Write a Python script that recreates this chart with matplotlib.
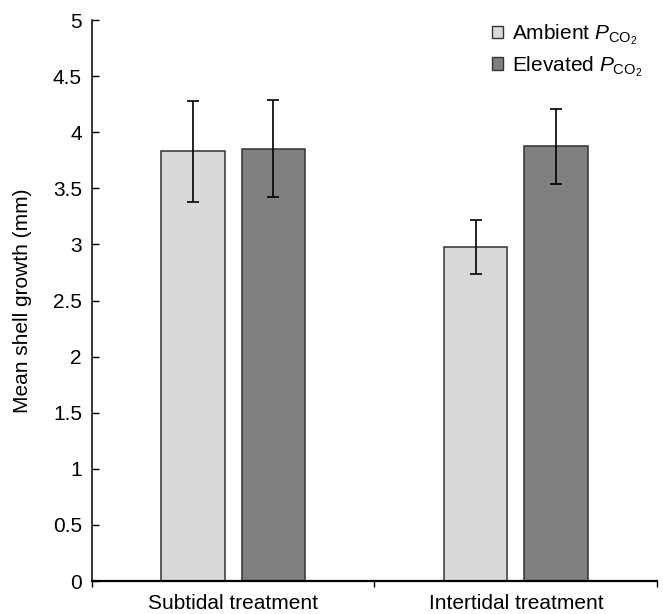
import numpy as np
import matplotlib
matplotlib.use('Agg')
import matplotlib.pyplot as plt
from matplotlib.patches import Patch

plt.rcParams['font.family'] = ['Liberation Sans', 'DejaVu Sans']
plt.rcParams['mathtext.fontset'] = 'custom'
plt.rcParams['mathtext.rm'] = 'Liberation Sans'
plt.rcParams['mathtext.it'] = 'Liberation Sans:italic'

# dati
trattamenti = ['Subtidal treatment', 'Intertidal treatment']
ambient = [3.83, 2.98]
ambient_err_su = [0.45, 0.24]
ambient_err_giu = [0.45, 0.24]
elevated = [3.85, 3.88]
elevated_err_su = [0.44, 0.33]
elevated_err_giu = [0.43, 0.34]
yticks = [0, 0.5, 1, 1.5, 2, 2.5, 3, 3.5, 4, 4.5, 5]

x = np.arange(len(trattamenti))
larghezza = 0.225
offset = 0.1425

fig = plt.figure(figsize=(6.63, 6.14), dpi=100)
ax = fig.add_axes([0.1383, 0.0537, 0.8531, 0.9137])

ax.bar(x - offset, ambient, width=larghezza, color='#d9d9d9', edgecolor='#333333', linewidth=1.1,
       yerr=[ambient_err_giu, ambient_err_su], error_kw=dict(ecolor='black', elinewidth=1.2, capsize=4, capthick=1.2),
       zorder=2)
ax.bar(x + offset, elevated, width=larghezza, color='#808080', edgecolor='#333333', linewidth=1.1,
       yerr=[elevated_err_giu, elevated_err_su], error_kw=dict(ecolor='black', elinewidth=1.2, capsize=4, capthick=1.2),
       zorder=2)

ax.set_xlim(-0.5, len(trattamenti) - 0.5)
ax.set_ylim(0, 5)

# assi
ax.spines['top'].set_visible(False)
ax.spines['right'].set_visible(False)
ax.spines['left'].set_linewidth(1.1)
ax.spines['bottom'].set_linewidth(1.6)

ax.set_yticks(yticks)
ax.set_yticklabels([f'{v:g}' for v in yticks], fontsize=15)
ax.tick_params(axis='y', direction='in', length=5, width=1, pad=7)

# tacche tra le categorie, etichette al centro
ax.set_xticks(np.arange(-0.5, len(trattamenti), 1.0))
ax.set_xticklabels([])
ax.tick_params(axis='x', which='major', direction='out', length=4, width=1)
ax.set_xticks(x, minor=True)
ax.set_xticklabels(trattamenti, minor=True, fontsize=15)
ax.tick_params(axis='x', which='minor', length=0, pad=9)

ax.set_ylabel('Mean shell growth (mm)', fontsize=15)
ax.yaxis.set_label_coords(-0.106, 0.5)

handles = [Patch(facecolor='#d9d9d9', edgecolor='#333333', linewidth=1),
           Patch(facecolor='#808080', edgecolor='#333333', linewidth=1)]
labels = [r'Ambient $P_{\mathrm{CO}_2}$', r'Elevated $P_{\mathrm{CO}_2}$']
ax.legend(handles, labels, loc='upper left', bbox_to_anchor=(0.693, 1.011), frameon=False,
          fontsize=15, handlelength=0.55, handleheight=0.55, handletextpad=0.4, labelspacing=0.35,
          borderaxespad=0)

plt.savefig('out.png', dpi=100)
